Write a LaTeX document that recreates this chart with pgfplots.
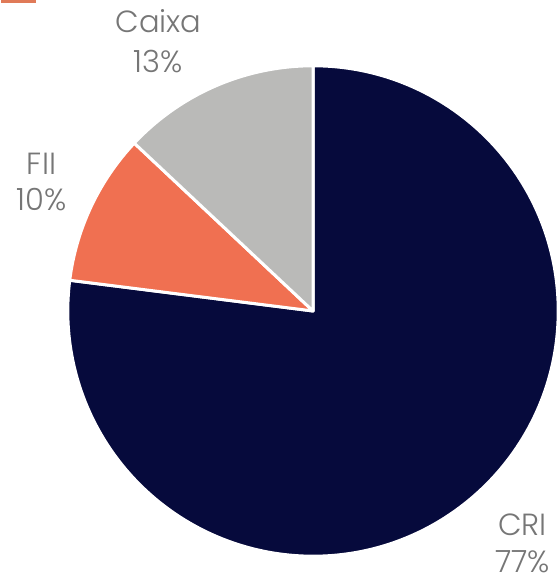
\documentclass[border=0pt]{standalone}
\usepackage{fontspec}
\setmainfont{Poppins}[UprightFont=* Light]
\usepackage{pgfplots}
\usepackage{pgfplotstable}
\pgfplotsset{compat=1.18}
\definecolor{cri}{HTML}{060A3C}
\definecolor{fii}{HTML}{F07051}
\definecolor{caixa}{HTML}{BABAB8}
\definecolor{lbl}{HTML}{767676}
\definecolor{swatch}{HTML}{E07A58}

% share of each slice, in percent, clockwise from 12 o'clock
\pgfplotstableread{
label value col
CRI 77 cri
FII 10 fii
Caixa 13 caixa
}\piedata

\begin{document}
\begin{tikzpicture}
\begin{axis}[
    x=0.5pt, y=0.5pt,
    xmin=0, xmax=556, ymin=0, ymax=581,
    hide axis, clip=false,
]
\path (axis cs:0,0) rectangle (axis cs:556,581);
\addplot[swatch, line width=1.5pt] coordinates {(0,579.5) (34,579.5)};

\pgfmathsetmacro\startang{90}
\pgfplotsforeachungrouped \i in {0,1,2}{
    \pgfplotstablegetelem{\i}{value}\of\piedata \let\val\pgfplotsretval
    \pgfplotstablegetelem{\i}{col}\of\piedata \let\col\pgfplotsretval
    \pgfmathsetmacro\endang{\startang-3.6*\val}
    \edef\temp{\noexpand\fill[\col, draw=white, line width=1.5pt, line join=round]
        (axis cs:311.5,270) -- ++(\startang:122.6pt)
        arc[start angle=\startang, end angle=\endang, radius=122.6pt] -- cycle;}
    \temp
    \global\let\startang\endang
}

\begin{scope}[every node/.style={font=\fontsize{15.3}{18}\selectfont, text=lbl, anchor=base, inner sep=0pt}]
\node at (axis cs:157,548) {Caixa};
\node at (axis cs:157,508) {13\%};
\node at (axis cs:40,406) {FII};
\node at (axis cs:40,370) {10\%};
\node at (axis cs:521,45) {CRI};
\node at (axis cs:521,8) {77\%};
\end{scope}
\end{axis}
\end{tikzpicture}
\end{document}
